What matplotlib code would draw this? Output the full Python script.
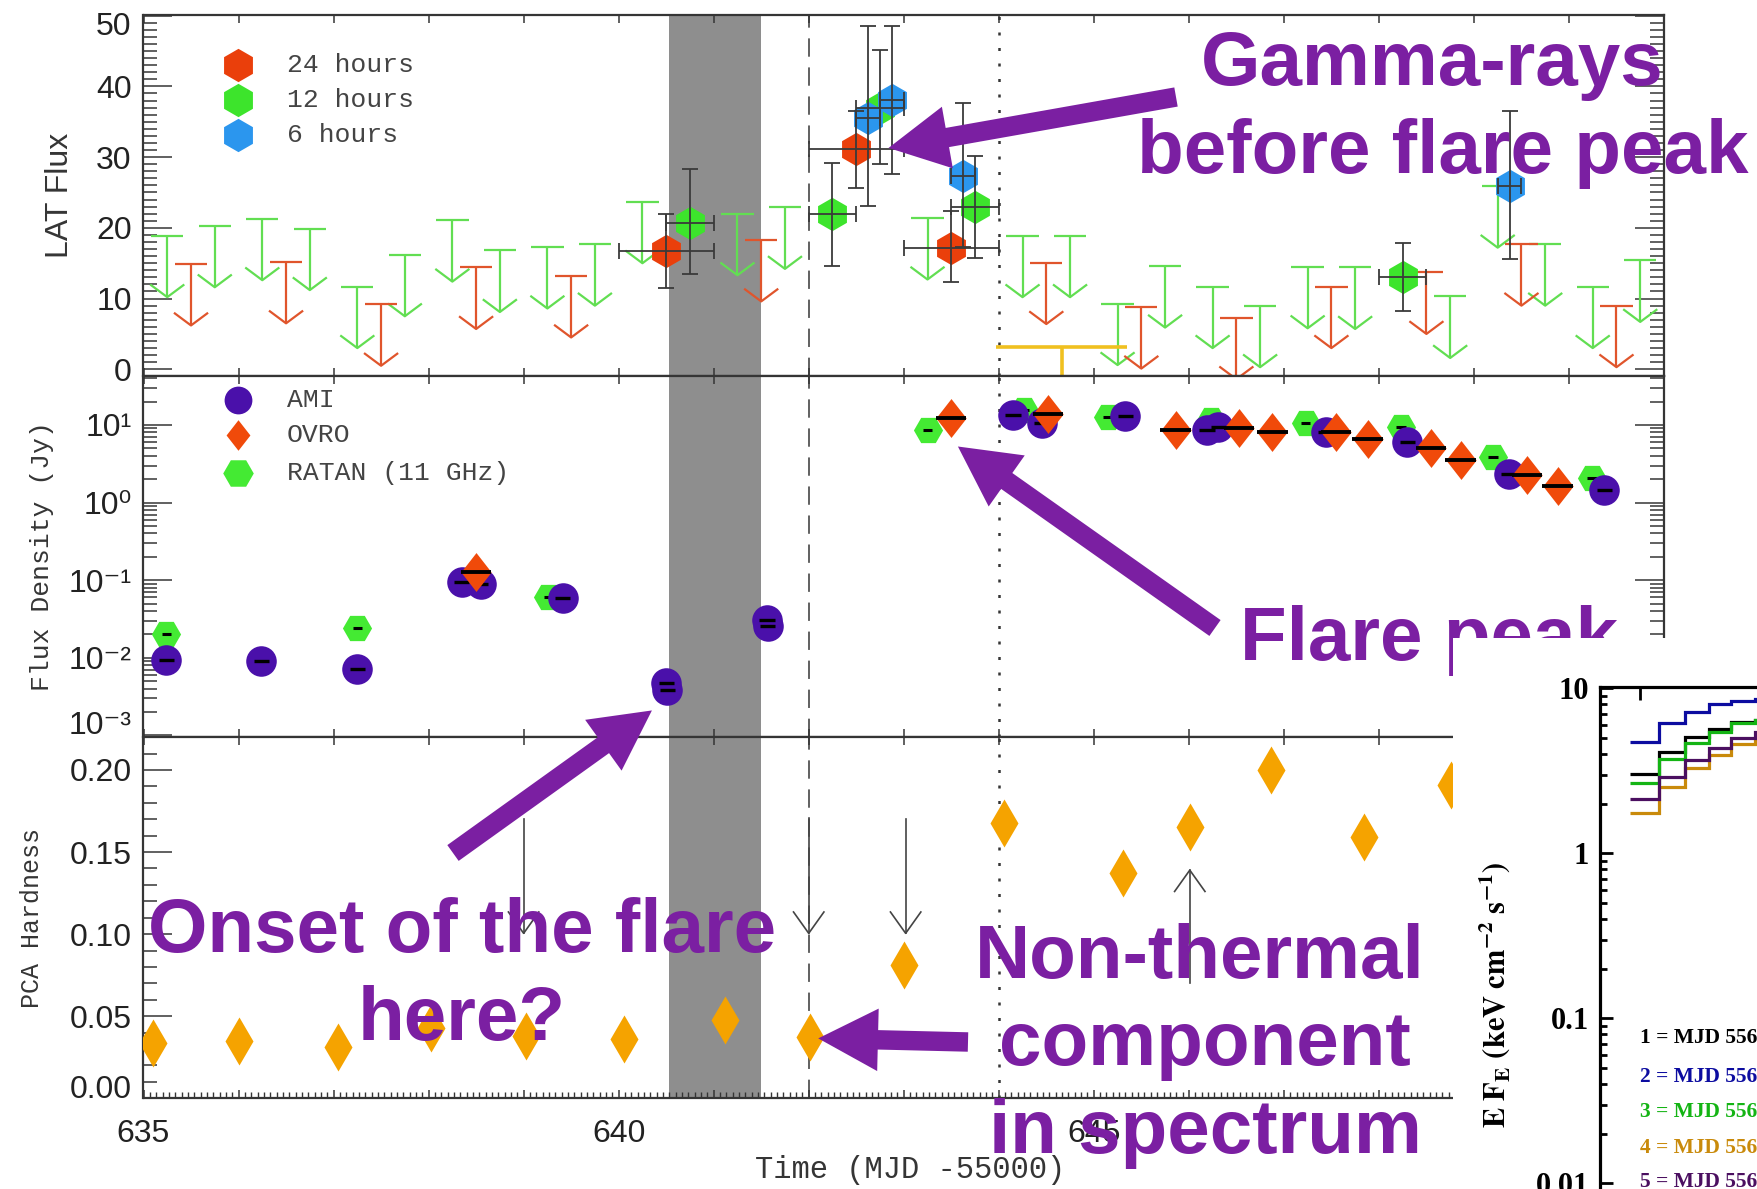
import numpy as np
import matplotlib.pyplot as plt
from matplotlib.ticker import MultipleLocator, FixedLocator, LogLocator, NullFormatter, FuncFormatter, NullLocator
from matplotlib.patches import Rectangle

W, H = 1758, 1189
SANS = ['Liberation Sans', 'DejaVu Sans']
MONO = ['Liberation Mono', 'DejaVu Sans Mono']
SERIF = ['Liberation Serif', 'DejaVu Serif']
plt.rcParams['font.family'] = SANS

PURPLE = '#7b1fa2'
INK = '#353535'
TICK_TXT = '#222222'

# ---- LAT flux (top panel) ----
ul24_t = [635.5, 636.5, 637.5, 638.5, 639.5, 641.5, 644.5, 645.5, 646.5, 647.5, 648.5, 649.5, 650.5]
ul24_f = [14.9, 15.2, 9.2, 14.4, 13.2, 18.3, 15.1, 8.8, 7.3, 11.7, 13.7, 17.7, 9.0]
ul12_t = [635.25, 635.75, 636.25, 636.75, 637.25, 637.75, 638.25, 638.75, 639.25, 639.75,
          640.25, 641.25, 641.75, 643.25, 644.25, 644.75, 645.25, 645.75, 646.25, 646.75,
          647.25, 647.75, 648.75, 649.25, 649.75, 650.25, 650.75]
ul12_f = [18.9, 20.3, 21.3, 19.9, 11.7, 16.2, 21.1, 16.8, 17.3, 17.7,
          23.7, 22.0, 22.9, 21.4, 18.9, 18.9, 9.3, 14.6, 11.7, 9.0,
          14.5, 14.4, 10.3, 25.9, 17.7, 11.7, 15.4]

det24_t = [640.5, 642.5, 643.5]
det24_f = [16.7, 31.2, 17.2]
det24_lo = [11.5, 25.7, 12.3]
det24_hi = [22.0, 36.5, 22.4]
det12_t = [640.75, 642.25, 642.75, 643.75, 648.25]
det12_f = [20.7, 22.0, 36.9, 23.0, 13.1]
det12_lo = [13.5, 14.6, 29.0, 15.8, 8.3]
det12_hi = [28.3, 29.2, 45.2, 30.1, 17.9]
det6_t = [642.625, 642.875, 643.625, 649.375]
det6_f = [35.6, 38.1, 27.3, 25.9]
det6_lo = [23.1, 27.6, 17.3, 15.6]
det6_hi = [48.6, 48.6, 37.6, 36.5]

yellow_span = [643.97, 645.35]
yellow_level = 3.1
yellow_mid = 644.66

# ---- radio flux density (middle panel) ----
ami_t = [635.24, 636.24, 637.25, 638.35, 638.55, 639.41, 640.50, 640.51, 641.56, 641.57,
         644.15, 644.45, 645.33, 646.19, 646.31, 647.44, 648.30, 649.37, 650.37]
ami_f = [0.0095, 0.0092, 0.0072, 0.095, 0.088, 0.059, 0.0047, 0.0039, 0.031, 0.026,
         13.4, 10.5, 13.0, 8.6, 9.3, 8.2, 6.1, 2.3, 1.47]
ovro_t = [638.5, 643.5, 644.52, 645.86, 646.53, 646.88, 647.55, 647.88, 648.55, 648.86, 649.56, 649.88]
ovro_f = [0.126, 12.2, 13.7, 8.6, 9.2, 8.2, 8.2, 6.5, 5.0, 3.55, 2.28, 1.62]
ratan_t = [635.24, 637.25, 639.26, 643.25, 644.27, 645.15, 646.23, 647.23, 648.23, 649.2, 650.24]
ratan_f = [0.020, 0.0245, 0.060, 8.6, 15.5, 12.8, 11.5, 10.7, 9.5, 3.9, 2.07]

# ---- PCA hardness (bottom panel) ----
pca_t = [635.10, 636.01, 637.05, 638.03, 639.03, 640.06, 641.12, 642.01, 643.0,
         644.05, 645.31, 646.01, 646.86, 647.84, 648.76]
pca_h = [0.0335, 0.035, 0.031, 0.043, 0.038, 0.036, 0.048, 0.0375, 0.081,
         0.168, 0.137, 0.165, 0.200, 0.159, 0.191]
down_t = [639.0, 642.0, 643.02]
down_from = [0.170, 0.171, 0.170]
down_to = [0.1005, 0.1005, 0.1005]
up_t = [646.01]
up_from = [0.070]
up_to = [0.139]

# ---- inset spectra ----
spec_edges = [2.92, 3.15, 3.38, 3.60, 3.81, 4.06, 4.30]
spec_vals = {
    'black': [3.01, 4.09, 5.04, 5.67, 6.22, 6.43],
    'blue': [4.74, 6.14, 7.21, 8.0, 8.38, 8.6],
    'green': [2.66, 3.71, 4.68, 5.46, 6.14, 6.43],
    'orange': [1.75, 2.51, 3.27, 3.95, 4.61, 4.98],
    'purple': [2.12, 2.91, 3.68, 4.33, 4.98, 5.4],
}
spec_colors = {'black': 'black', 'blue': '#0c0ca0', 'green': '#14b414',
               'orange': '#c98a0b', 'purple': '#4b0f60'}
spec_labels = ['1 = MJD 556', '2 = MJD 556', '3 = MJD 556', '4 = MJD 556', '5 = MJD 556']
spec_label_order = ['black', 'blue', 'green', 'orange', 'purple']

fig = plt.figure(figsize=(W / 100, H / 100), dpi=100)

L = 143.5 / W
WD = 1520.5 / W


def panel(top_px, bot_px):
    ax = fig.add_axes([L, 1 - bot_px / H, WD, (bot_px - top_px) / H])
    ax.set_xlim(635, 651)
    ax.xaxis.set_major_locator(MultipleLocator(1))
    ax.tick_params(which='both', direction='in', top=True, right=True, color=INK,
                   labelcolor=TICK_TXT, labelsize=23, pad=8.5)
    ax.tick_params(axis='x', which='major', length=6, width=1.1, pad=15)
    ax.tick_params(axis='y', which='major', length=21, width=1.1)
    ax.tick_params(axis='y', which='minor', length=10, width=1.1)
    for s in ax.spines.values():
        s.set_color(INK)
        s.set_linewidth(1.6)
    ax.axvspan(640.53, 641.5, color='#8e8e8e', lw=0, zorder=0.5)
    ax.axvline(642.0, color=INK, lw=1.1, dashes=(12, 7), zorder=1)
    ax.axvline(644.0, color=INK, lw=1.8, dashes=(1.2, 5), zorder=1)
    return ax


ax1 = panel(15, 376)
ax2 = panel(376, 737)
ax3 = panel(737, 1098.3)
ax1.tick_params(labelbottom=False)
ax2.tick_params(labelbottom=False)


def upper_limits(ax, t, f, color, length=8.7):
    t = np.asarray(t)
    f = np.asarray(f)
    tip = f - length
    ax.hlines(f, t - 0.17, t + 0.17, color=color, lw=1.6, zorder=2)
    ax.vlines(t, tip, f, color=color, lw=1.6, zorder=2)
    for ti, yi in zip(t, tip):
        ax.plot([ti - 0.17, ti, ti + 0.17], [yi + 1.7, yi, yi + 1.7], color=color, lw=1.6, zorder=2)


# top panel
ax1.set_ylim(-0.95, 50.1)
ax1.yaxis.set_major_locator(MultipleLocator(10))
ax1.yaxis.set_minor_locator(MultipleLocator(1))
ax1.yaxis.set_major_formatter(FuncFormatter(lambda v, p: '' if v > 45 else f'{v:.0f}'))
upper_limits(ax1, ul12_t, ul12_f, '#62de52')
upper_limits(ax1, ul24_t, ul24_f, '#e0552c')
ax1.hlines(yellow_level, yellow_span[0], yellow_span[1], color='#f0c020', lw=2.6, zorder=2)
ax1.vlines(yellow_mid, -1, yellow_level, color='#f0c020', lw=2.6, zorder=2)

for t, f, lo, hi, col, xe in [(det24_t, det24_f, det24_lo, det24_hi, '#ea3f0b', 0.5),
                              (det12_t, det12_f, det12_lo, det12_hi, '#3de42c', 0.25),
                              (det6_t, det6_f, det6_lo, det6_hi, '#2b96ee', 0.125)]:
    f = np.asarray(f)
    ax1.plot(t, f, 'h', ms=24, color=col, mec='none', zorder=3)
    ax1.errorbar(t, f, yerr=[f - np.asarray(lo), np.asarray(hi) - f], xerr=xe, fmt='none',
                 ecolor='#3a3a3a', elinewidth=1.3, capsize=5.5, capthick=1.3, zorder=4)

for yfrac, col, lab in [(0.8615, '#ea3f0b', '24 hours'), (0.7645, '#3de42c', '12 hours'),
                        (0.6676, '#2b96ee', '6 hours')]:
    ax1.plot([0.0621], [yfrac], 'h', ms=24, color=col, mec='none', transform=ax1.transAxes)
    ax1.text(0.0944, yfrac, lab, transform=ax1.transAxes, va='center', ha='left',
             fontsize=19, family=MONO, color='#444444')

# middle panel
ax2.set_yscale('log')
ax2.set_ylim(10 ** -3.02, 10 ** 1.63)
ax2.yaxis.set_major_locator(FixedLocator([1e-3, 1e-2, 1e-1, 1, 10]))
ax2.yaxis.set_major_formatter(FuncFormatter(
    lambda v, p: {1e-2: '10⁻²', 1e-1: '10⁻¹', 1: '10⁰', 10: '10¹'}.get(v, '')))
ax2.yaxis.set_minor_locator(LogLocator(base=10, subs=np.arange(2, 10)))
ax2.yaxis.set_minor_formatter(NullFormatter())

diamond = [(0, 1), (0.78, 0), (0, -1), (-0.78, 0), (0, 1)]
ax2.plot(ratan_t, ratan_f, 'H', ms=21, color='#44ea33', mec='none', zorder=3)
ax2.errorbar(ratan_t, ratan_f, xerr=0.05, fmt='none', ecolor='k', elinewidth=2.2, zorder=3.1)
ax2.plot(ami_t, ami_f, 'o', ms=22, color='#4a10aa', mec='none', zorder=4)
ax2.errorbar(ami_t, ami_f, xerr=0.08, fmt='none', ecolor='k', elinewidth=2.4, zorder=4.1)
ax2.plot(ovro_t, ovro_f, marker=diamond, ls='none', ms=28, color='#f04a0a', mec='none', zorder=5)
ax2.errorbar(ovro_t, ovro_f, xerr=0.16, fmt='none', ecolor='k', elinewidth=2.8, zorder=5.1)

ax2.plot([0.0621], [0.9335], 'o', ms=20, color='#4a10aa', mec='none', transform=ax2.transAxes)
ax2.plot([0.0621], [0.8366], marker=diamond, ms=22, color='#f04a0a', mec='none', transform=ax2.transAxes)
ax2.plot([0.0621], [0.7313], 'H', ms=22, color='#44ea33', mec='none', transform=ax2.transAxes)
for yfrac, lab in [(0.9335, 'AMI'), (0.8366, 'OVRO'), (0.7313, 'RATAN (11 GHz)')]:
    ax2.text(0.0944, yfrac, lab, transform=ax2.transAxes, va='center', ha='left',
             fontsize=19, family=MONO, color='#444444')

# bottom panel
ax3.set_ylim(0, 0.2201)
ax3.yaxis.set_major_locator(MultipleLocator(0.05))
ax3.yaxis.set_minor_locator(MultipleLocator(0.01))
ax3.yaxis.set_major_formatter(FuncFormatter(lambda v, p: '' if v < 0.01 else f'{v:.2f}'))
ax3.xaxis.set_major_formatter(FuncFormatter(
    lambda v, p: f'{v:.0f}' if abs(v / 5 - round(v / 5)) < 1e-6 else ''))
ax3.xaxis.set_minor_locator(MultipleLocator(1 / 15))
ax3.tick_params(axis='x', which='minor', top=False, length=4, width=1.0)
ax3.plot(pca_t, pca_h, 'd', ms=24, color='#f5a300', mec='none', zorder=3)
for t, y0, y1 in zip(down_t, down_from, down_to):
    ax3.plot([t, t], [y0, y1], color='#444444', lw=1.2, zorder=2)
    ax3.plot([t - 0.16, t, t + 0.16], [y1 + 0.013, y1, y1 + 0.013], color='#444444', lw=1.2, zorder=2)
for t, y0, y1 in zip(up_t, up_from, up_to):
    ax3.plot([t, t], [y0, y1], color='#444444', lw=1.2, zorder=2)
    ax3.plot([t - 0.16, t, t + 0.16], [y1 - 0.013, y1, y1 - 0.013], color='#444444', lw=1.2, zorder=2)

# overlay in figure pixels (y down)
ov = fig.add_axes([0, 0, 1, 1])
ov.set_xlim(0, W)
ov.set_ylim(H, 0)
ov.axis('off')
ov.patch.set_facecolor('none')
ov.set_zorder(5)

# edge tick labels sit a little inside their panels, as in the original
ov.text(131.5, 27, '50', ha='right', va='center', fontsize=23, color=TICK_TXT)
ov.text(131.5, 726, '10⁻³', ha='right', va='center', fontsize=23, color=TICK_TXT)
ov.text(131.5, 1090, '0.00', ha='right', va='center', fontsize=23, color=TICK_TXT)

ov.text(60, 195.5, 'LAT Flux', rotation=90, ha='center', va='center', fontsize=23, color=INK)
ov.text(42, 556.5, 'Flux Density (Jy)', rotation=90, ha='center', va='center', fontsize=19,
        family=MONO, color=INK)
ov.text(32, 918, 'PCA Hardness', rotation=90, ha='center', va='center', fontsize=18,
        family=MONO, color=INK)
ov.text(910, 1170, 'Time (MJD -55000)', ha='center', va='center', fontsize=22, family=MONO, color=INK)

big = dict(fontsize=55, fontweight='bold', color=PURPLE, va='baseline', zorder=3)
ov.text(1432, 85, 'Gamma-rays', ha='center', **big)
ov.text(1443, 173, 'before flare peak', ha='center', **big)
ov.text(1240, 660, 'Flare peak', ha='left', **big)
ov.text(462, 952, 'Onset of the flare', ha='center', **big)
ov.text(462, 1040, 'here?', ha='center', **big)
ov.text(1200, 978, 'Non-thermal', ha='center', **big)
ov.text(1205, 1065, 'component', ha='center', **big)
ov.text(1205, 1153, 'in spectrum', ha='center', **big)

arrow_kw = dict(arrowstyle='simple,head_length=0.43,head_width=0.45,tail_width=0.14',
                color=PURPLE, shrinkA=0, shrinkB=0, mutation_scale=100, lw=0)
ov.annotate('', xy=(642.84, 31.3), xycoords=ax1.transData, xytext=(1176, 97),
            textcoords=ov.transData, arrowprops=arrow_kw, zorder=3)
ov.annotate('', xy=(643.57, 5.27), xycoords=ax2.transData, xytext=(1215, 628),
            textcoords=ov.transData, arrowprops=arrow_kw, zorder=3)
ov.annotate('', xy=(640.35, 0.0021), xycoords=ax2.transData, xytext=(453, 853),
            textcoords=ov.transData, arrowprops=arrow_kw, zorder=3)
ov.annotate('', xy=(642.10, 0.0365), xycoords=ax3.transData, xytext=(968, 1042),
            textcoords=ov.transData, arrowprops=arrow_kw, zorder=3)

ov.add_patch(Rectangle((1453, 638), 400, 600, facecolor='white', edgecolor='none', zorder=10))

# inset spectrum
ax_in = fig.add_axes([1600 / W, 1 - 1350 / H, 0.3, (1350 - 686.7) / H])
ax_in.set_zorder(10)
ax_in.set_xscale('log')
ax_in.set_yscale('log')
ax_in.set_xlim(2.7, 10.8)
ax_in.set_ylim(10 ** -3.01, 10 ** 1.0097)
for key in spec_label_order:
    ax_in.stairs(spec_vals[key], spec_edges, color=spec_colors[key], lw=2.3, baseline=None)
ax_in.set_yticks([1e-3, 1e-2, 1e-1, 1, 10], ['0.001', '0.01', '0.1', '1', '10'],
                 fontfamily=SERIF, fontweight='bold', fontsize=22)
ax_in.yaxis.set_minor_locator(LogLocator(base=10, subs=np.arange(2, 10)))
ax_in.yaxis.set_minor_formatter(NullFormatter())
ax_in.set_xticks([3], [''])
ax_in.xaxis.set_minor_locator(NullLocator())
ax_in.tick_params(which='both', direction='in', top=True, right=True, color='black', pad=8)
ax_in.tick_params(which='major', length=9.5, width=2.0)
ax_in.tick_params(which='minor', length=5, width=2.0)
for s in ax_in.spines.values():
    s.set_color('black')
    s.set_linewidth(2.3)

ax_in.text(1495, 995, r'$\mathbf{E\ F_E\ (keV\ cm^{-2}\ s^{-1})}$', transform=ov.transData,
           rotation=90, ha='center', va='center', fontsize=22, math_fontfamily='stix')
for lab, key, ypx in zip(spec_labels, spec_label_order, [1038, 1077, 1112, 1148, 1182]):
    ax_in.text(1640, ypx, lab, transform=ov.transData, ha='left', va='center', fontsize=15.5,
               family=SERIF, fontweight='bold', color=spec_colors[key])

fig.savefig('out.png', dpi=100)
